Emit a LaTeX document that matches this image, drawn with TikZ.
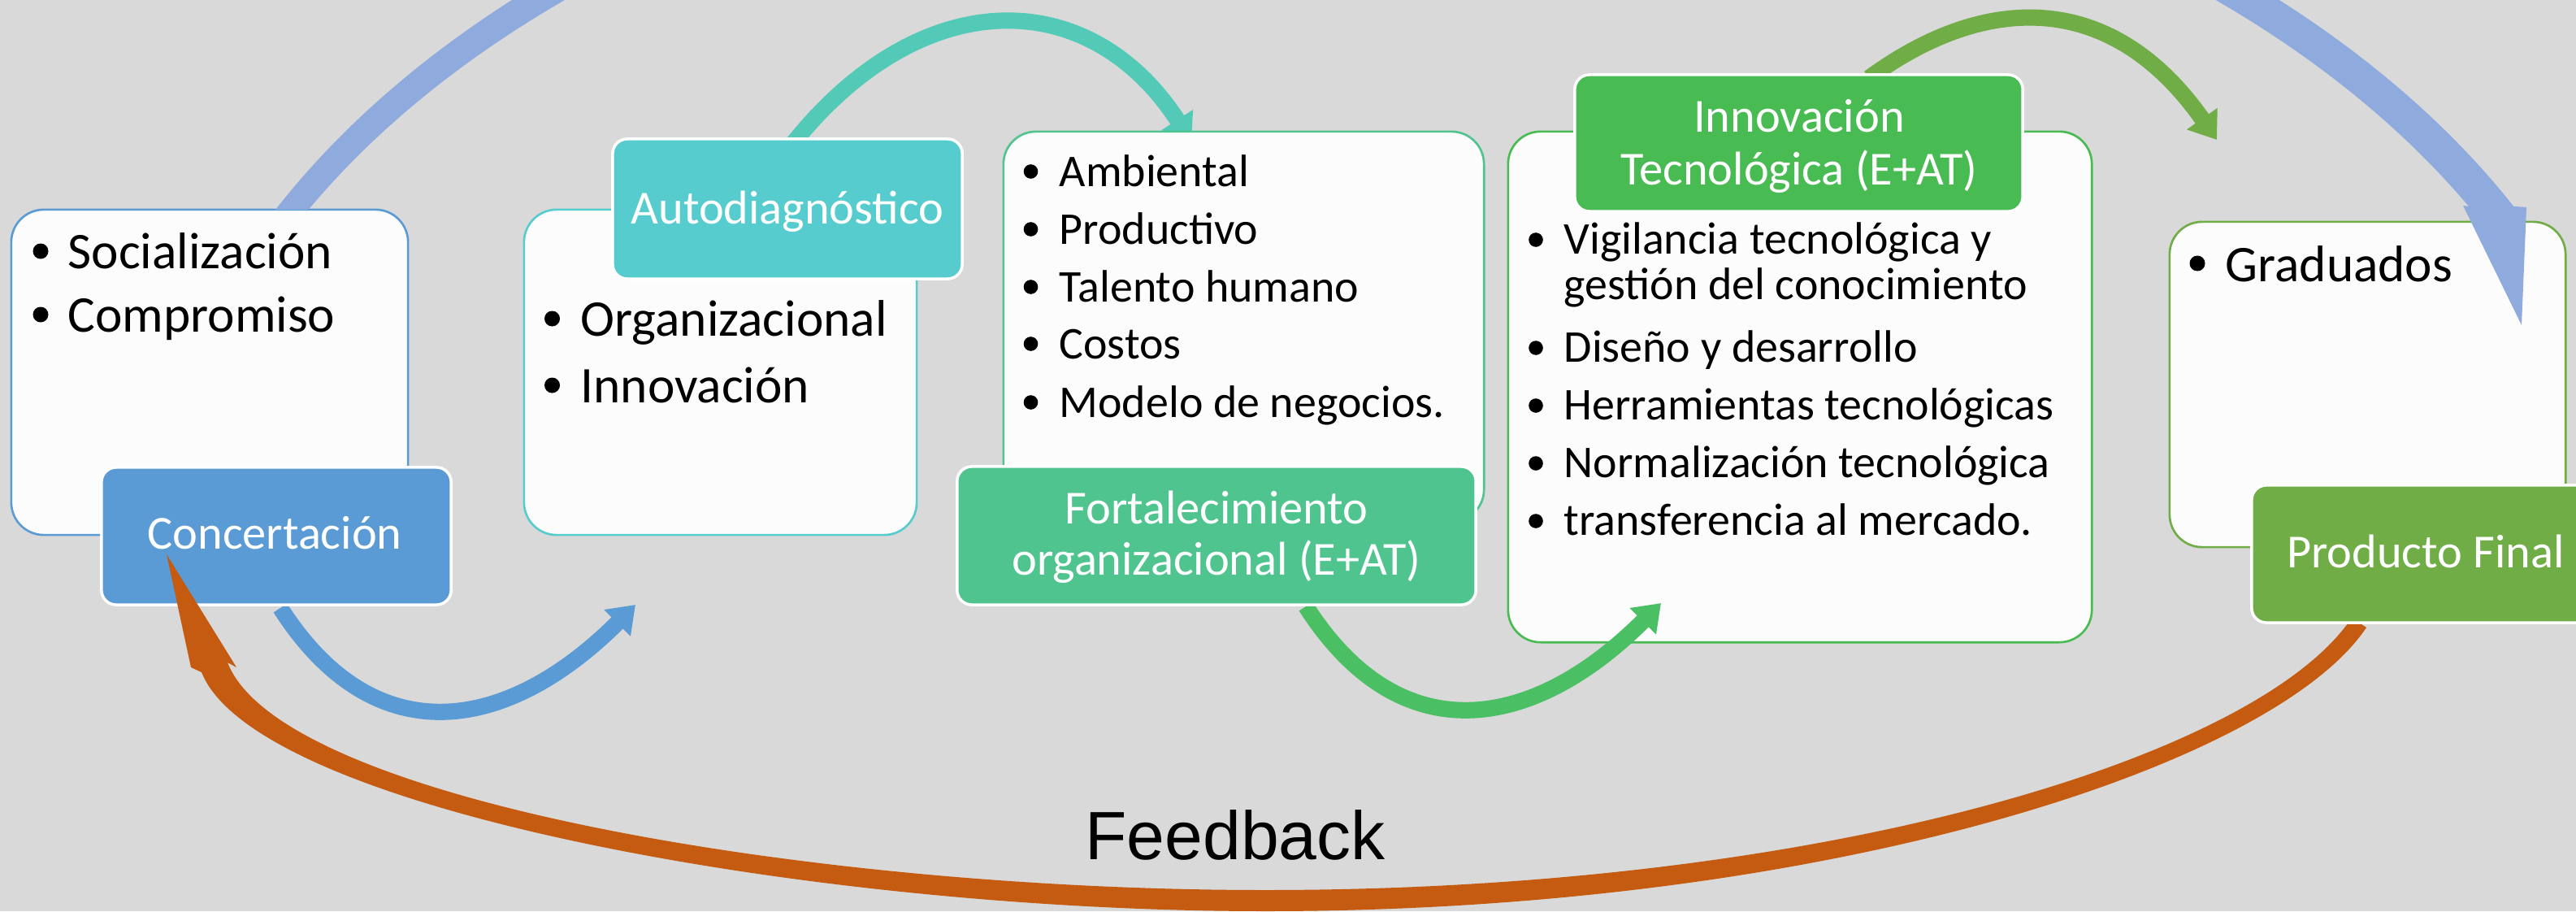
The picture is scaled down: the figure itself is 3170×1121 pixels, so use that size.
\documentclass[tikz,border=0pt]{standalone}
\usepackage{fontspec}
\setmainfont{Carlito}
\newfontfamily\feedfont{Liberation Sans}
\usetikzlibrary{arrows.meta}
\definecolor{bgc}{HTML}{D9D9D9}
\definecolor{wfill}{HTML}{FCFCFC}
\definecolor{cblue}{HTML}{5B9BD5}
\definecolor{cteal}{HTML}{56CCCE}
\definecolor{ctealarr}{HTML}{52CAB7}
\definecolor{cmint}{HTML}{50C48F}
\definecolor{cgreenarr}{HTML}{4ABF63}
\definecolor{cgreen}{HTML}{49BB53}
\definecolor{colive}{HTML}{70AD47}
\definecolor{clav}{HTML}{8FAADC}
\definecolor{corange}{HTML}{C55A11}
\begin{document}
\begin{tikzpicture}[x=0.01cm, y=-0.01cm,
  wbox/.style={draw=#1, fill=wfill, line width=0.75pt, rounded corners=0.4cm, inner sep=0pt},
  hbox/.style={draw=white, fill=#1, line width=1pt, rounded corners=0.18cm, inner sep=0pt},
  itemA/.style={anchor=base west, inner sep=0pt, text=black, font=\fontsize{18}{20}\selectfont},
  itemB/.style={anchor=base west, inner sep=0pt, text=black, font=\fontsize{15.9}{18}\selectfont},
  htext/.style={anchor=base, inner sep=0pt, text=white, font=\fontsize{16.6}{19}\selectfont},
  sarrow/.style={draw=#1, line width=5.7pt, -{Triangle[length=9pt,width=12.5pt]}},
  bulA/.style={fill=black},
]
\useasboundingbox (0,0) rectangle (3170,1121);
\clip (0,0) rectangle (3170,1121);
\fill[bgc] (0,0) rectangle (3170,1121);

% teal arrow (behind boxes)
\coordinate (tealS) at (977,175);
\coordinate (tealE) at (1466,174);
\draw[sarrow=ctealarr] (tealS) .. controls (1134,-20) and (1340,-20) .. (tealE);

% white boxes
\node[wbox=cblue, minimum width=4.88cm, minimum height=4.00cm] (b1) at (258,458) {};
\node[wbox=cteal, minimum width=4.83cm, minimum height=4.00cm] (b2) at (886.5,458) {};
\node[wbox=cmint, minimum width=5.91cm, minimum height=4.80cm] (b3) at (1530.5,402) {};
\node[wbox=cgreen, minimum width=7.18cm, minimum height=6.28cm] (b4) at (2215,476) {};
\node[wbox=colive, minimum width=4.87cm, minimum height=4.00cm] (b5) at (2913.5,473) {};

% small lower arrows
\coordinate (blueS) at (345,748);
\coordinate (blueE) at (782,744);
\draw[sarrow=cblue] (blueS) .. controls (462,931) and (626,900) .. (blueE);
\coordinate (greenS) at (1607,746);
\coordinate (greenE) at (2044,742);
\draw[sarrow=cgreenarr] (greenS) .. controls (1724,929) and (1888,898) .. (greenE);

% olive arrow
\coordinate (oliveS) at (2300,96);
\coordinate (oliveE) at (2728,172);
\draw[sarrow=colive] (oliveS) .. controls (2439,-6) and (2596,-16) .. (oliveE);

% big lavender arc
\coordinate (bigS) at (339,258);
\fill[clav] (bigS) arc[start angle=206.6, end angle=333.13, x radius=1542, y radius=987]
  -- (3109,255) -- (3103,400) -- (3031,253) -- (3038,254)
  arc[start angle=331.97, end angle=207.76, x radius=1504, y radius=949] -- cycle;

% header boxes
\node[hbox=cblue, minimum width=4.30cm, minimum height=1.69cm] (h1) at (340,659.5) {};
\node[hbox=cteal, minimum width=4.30cm, minimum height=1.72cm] (h2) at (969,257) {};
\node[hbox=cmint, minimum width=6.38cm, minimum height=1.70cm] (h3) at (1497,659) {};
\node[hbox=cgreen, minimum width=5.51cm, minimum height=1.68cm] (h4) at (2213.5,176) {};

% feedback arrow (tapered, with head)
\coordinate (fbS) at (2903,768);
\coordinate (fbTip) at (205,682);
\fill[corange] (2912,772) .. controls (2800,940) and (2257,1121) .. (1557,1121)
  .. controls (1000,1121) and (315,996) .. (248,827)
  -- (235,821) -- (fbTip) -- (291,821) -- (280,815)
  .. controls (345,984) and (1000,1095) .. (1557,1095)
  .. controls (2257,1095) and (2782,928) .. (2894,760) -- cycle;

\node[hbox=colive, minimum width=4.28cm, minimum height=1.69cm] (h5) at (2985,681.5) {};

% bullets
\fill[bulA] (50,309) circle[radius=9.5];
\fill[bulA] (50,387) circle[radius=9.5];
\fill[bulA] (679.5,392) circle[radius=9.5];
\fill[bulA] (679.5,474) circle[radius=9.5];
\foreach \yy in {229,300,371,441,513} {\fill[bulA] (1268.5,\yy-18) circle[radius=8.8];}
\foreach \yy in {312,445,516,587,658} {\fill[bulA] (1890,\yy-17) circle[radius=8.8];}
\fill[bulA] (2704,324) circle[radius=9.5];

% texts
\node[itemA] (t11) at (83,330) {Socialización};
\node[itemA] (t12) at (83,408) {Compromiso};
\node[itemA] (t21) at (714,413) {Organizacional};
\node[itemA] (t22) at (714,495) {Innovación};
\node[itemB] (t31) at (1303,229) {Ambiental};
\node[itemB] (t32) at (1303,300) {Productivo};
\node[itemB] (t33) at (1303,371) {Talento humano};
\node[itemB] (t34) at (1303,441) {Costos};
\node[itemB] (t35) at (1303,513) {Modelo de negocios.};
\node[itemB] (t41) at (1924,312) {Vigilancia tecnológica y};
\node[itemB] (t41b) at (1924,368) {gestión del conocimiento};
\node[itemB] (t42) at (1924,445) {Diseño y desarrollo};
\node[itemB] (t43) at (1924,516) {Herramientas tecnológicas};
\node[itemB] (t44) at (1924,587) {Normalización tecnológica};
\node[itemB] (t45) at (1924,658) {transferencia al mercado.};
\node[itemA] (t51) at (2738,346) {Graduados};

\node[htext] (l1) at (338,675) {Concertación};
\node[htext] (l2) at (969,275) {Autodiagnóstico};
\node[htext] (l3a) at (1497,644) {Fortalecimiento};
\node[htext] (l3b) at (1497,707) {organizacional (E+AT)};
\node[htext] (l4a) at (2214,162) {Innovación};
\node[htext] (l4b) at (2214,227) {Tecnológica (E+AT)};
\node[htext] (l5) at (2985,698) {Producto Final};

\node[anchor=base, inner sep=0pt, font=\feedfont\fontsize{23.9}{28}\selectfont] (fb) at (1520,1057) {Feedback};
\end{tikzpicture}
\end{document}
